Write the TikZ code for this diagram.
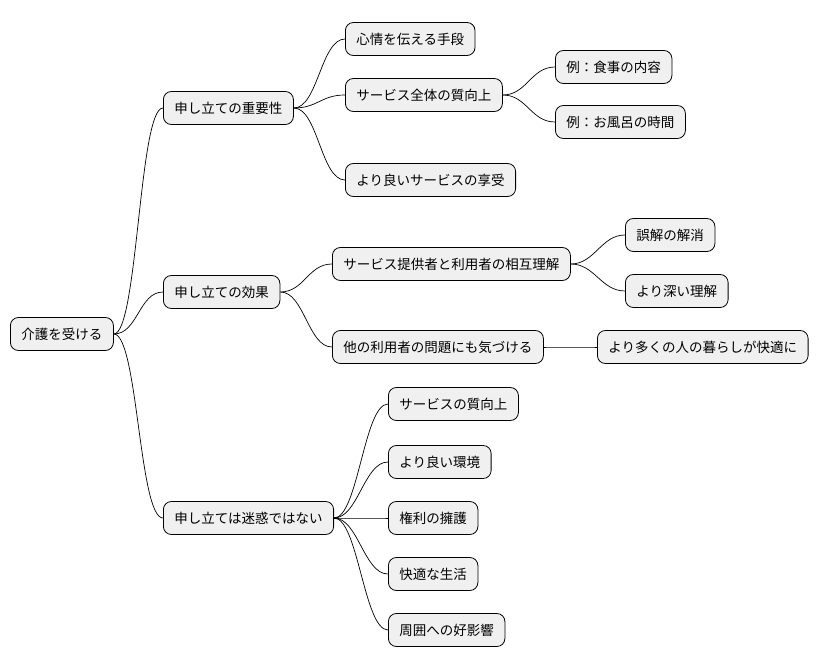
\documentclass[tikz,border=0pt]{standalone}
\usepackage{fontspec}
\setmainfont{Noto Sans CJK JP}
\begin{document}
\begin{tikzpicture}[x=1pt,y=-1pt,
  n/.style={anchor=west,draw=black,fill=black!6,rounded corners=8pt,minimum height=33pt,inner xsep=11pt,font=\fontsize{13.5}{15}\selectfont,line width=0.8pt},
  c/.style={draw=black,line width=0.7pt}]
\useasboundingbox (0,0) rectangle (824,668);
\node[n] (r) at (10,334) {介護を受ける};
\node[n] (a) at (163,108) {申し立ての重要性};
\node[n] (a1) at (345,39) {心情を伝える手段};
\node[n] (a2) at (345,95) {サービス全体の質向上};
\node[n] (a21) at (555,67) {例：食事の内容};
\node[n] (a22) at (555,122) {例：お風呂の時間};
\node[n] (a3) at (345,180) {より良いサービスの享受};
\node[n] (b) at (163,292) {申し立ての効果};
\node[n] (b1) at (332,264) {サービス提供者と利用者の相互理解};
\node[n] (b11) at (625,235) {誤解の解消};
\node[n] (b12) at (625,291) {より深い理解};
\node[n] (b2) at (332,347) {他の利用者の問題にも気づける};
\node[n] (b21) at (597,347) {より多くの人の暮らしが快適に};
\node[n] (c) at (163,518) {申し立ては迷惑ではない};
\node[n] (c1) at (388,404) {サービスの質向上};
\node[n] (c2) at (388,462) {より良い環境};
\node[n] (c3) at (388,518) {権利の擁護};
\node[n] (c4) at (388,574) {快適な生活};
\node[n] (c5) at (388,630) {周囲への好影響};
\foreach \p/\q in {r/a,r/b,r/c,a/a1,a/a2,a/a3,a2/a21,a2/a22,b/b1,b/b2,b1/b11,b1/b12,b2/b21,c/c1,c/c2,c/c3,c/c4,c/c5}
  \draw[c] (\p.east) .. controls ([xshift=24pt]\p.east) and ([xshift=-24pt]\q.west) .. (\q.west);
\end{tikzpicture}
\end{document}
